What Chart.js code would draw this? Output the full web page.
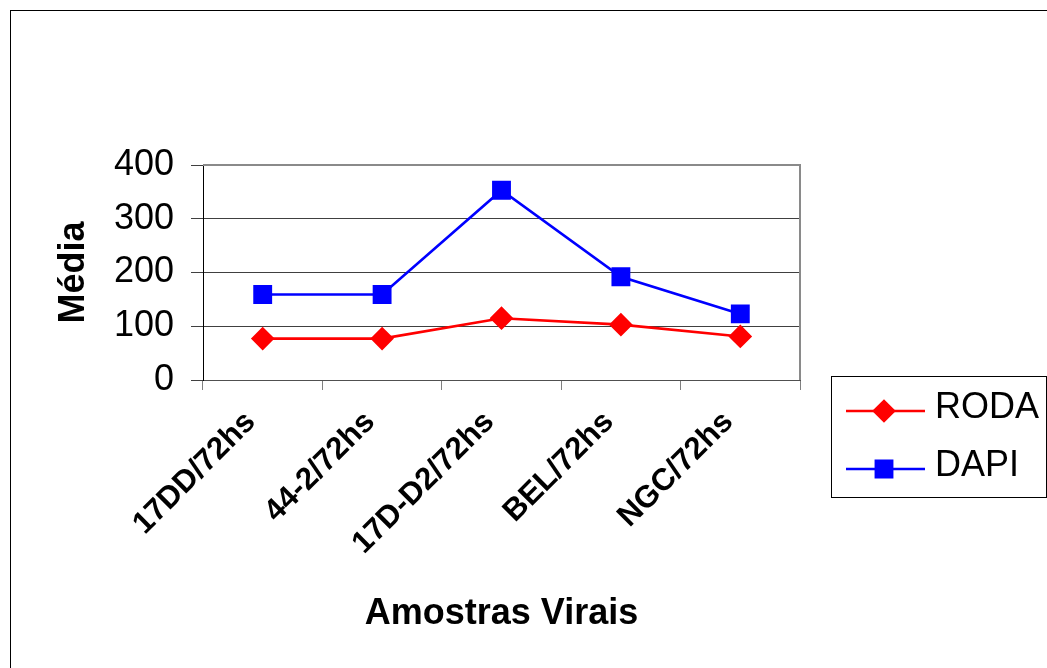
<!DOCTYPE html>
<html>
<head>
<meta charset="utf-8">
<script src="https://cdn.jsdelivr.net/npm/chart.js@4.4.1/dist/chart.umd.min.js"></script>
<style>
  html, body { margin: 0; padding: 0; background: #fff; }
  #wrap { width: 1047px; height: 668px; }
</style>
</head>
<body>
<div id="wrap"><canvas id="c" width="1047" height="668"></canvas></div>
<script>
// Virus samples on the x axis
const categories = ['17DD/72hs', '44-2/72hs', '17D-D2/72hs', 'BEL/72hs', 'NGC/72hs'];
// Mean values per staining method
const rodaValues = [77, 77, 115, 103, 81];
const dapiValues = [159, 159, 353, 192, 123];
const yTicks = [0, 100, 200, 300, 400];

const FONT = "'Liberation Sans', Arial, sans-serif";

// Outer frame and plot-area frame
const framePlugin = {
  id: 'frames',
  beforeDraw(chart) {
    const ctx = chart.ctx;
    ctx.save();
    ctx.fillStyle = '#fff';
    ctx.fillRect(0, 0, chart.width, chart.height);
    ctx.strokeStyle = '#000';
    ctx.lineWidth = 1;
    ctx.strokeRect(10.5, 10.5, chart.width + 20, chart.height + 20);
    ctx.restore();
  },
  beforeDatasetsDraw(chart) {
    const { ctx, chartArea: a } = chart;
    ctx.save();
    ctx.strokeStyle = '#8a8a8a';
    ctx.lineWidth = 2;
    ctx.beginPath();
    ctx.moveTo(a.left, a.top);
    ctx.lineTo(a.right, a.top);
    ctx.lineTo(a.right, a.bottom);
    ctx.stroke();
    ctx.restore();
  }
};

// Boxed legend to the right of the plot
const boxLegend = {
  id: 'boxLegend',
  afterDraw(chart) {
    const ctx = chart.ctx;
    const box = { x: 831.5, y: 376.5, w: 215, h: 121 };
    ctx.save();
    ctx.strokeStyle = '#000';
    ctx.lineWidth = 1;
    ctx.strokeRect(box.x, box.y, box.w, box.h);
    const rows = [411, 469];
    chart.data.datasets.forEach((ds, i) => {
      const y = rows[i];
      ctx.strokeStyle = ds.borderColor;
      ctx.lineWidth = ds.borderWidth;
      ctx.beginPath();
      ctx.moveTo(846, y);
      ctx.lineTo(925, y);
      ctx.stroke();
      Chart.helpers.drawPoint(ctx, {
        pointStyle: ds.pointStyle,
        radius: ds.pointRadius,
        borderWidth: 1,
        rotation: 0
      }, 884, y);
      ctx.fillStyle = ds.pointBackgroundColor;
      ctx.strokeStyle = ds.pointBorderColor;
      ctx.fill();
      ctx.fillStyle = '#000';
      ctx.font = '36px ' + FONT;
      ctx.textAlign = 'left';
      ctx.textBaseline = 'middle';
      ctx.fillText(ds.label, 935, y - 3);
    });
    ctx.restore();
  }
};

new Chart(document.getElementById('c'), {
  type: 'line',
  data: {
    labels: categories,
    datasets: [
      {
        label: 'RODA',
        data: rodaValues,
        borderColor: '#ff0000',
        backgroundColor: '#ff0000',
        pointBackgroundColor: '#ff0000',
        pointBorderColor: '#ff0000',
        pointStyle: 'rectRot',
        pointRadius: 10,
        borderWidth: 2.6,
        tension: 0
      },
      {
        label: 'DAPI',
        data: dapiValues,
        borderColor: '#0000ff',
        backgroundColor: '#0000ff',
        pointBackgroundColor: '#0000ff',
        pointBorderColor: '#0000ff',
        pointStyle: 'rect',
        pointRadius: 11.5,
        borderWidth: 2.6,
        tension: 0
      }
    ]
  },
  options: {
    responsive: false,
    animation: false,
    layout: {
      autoPadding: false,
      padding: { left: 52, top: 165, right: 247, bottom: 28 }
    },
    plugins: {
      legend: { display: false },
      tooltip: { enabled: false }
    },
    scales: {
      x: {
        type: 'category',
        offset: true,
        grid: {
          offset: true,
          drawOnChartArea: false,
          drawTicks: true,
          tickLength: 10,
          color: '#808080'
        },
        border: { color: '#505050', width: 1 },
        ticks: {
          color: '#000',
          font: { family: FONT, size: 31, weight: 'bold' },
          minRotation: 45,
          maxRotation: 45,
          autoSkip: false,
          labelOffset: -12,
          padding: 14
        },
        title: {
          display: true,
          text: 'Amostras Virais',
          color: '#000',
          font: { family: FONT, size: 36, weight: 'bold' },
          padding: { top: 0, bottom: 4 }
        },
        afterFit(scale) { scale.height = 260; }
      },
      y: {
        min: 0,
        max: 400,
        afterBuildTicks(scale) { scale.ticks = yTicks.map(v => ({ value: v })); },
        grid: {
          color: '#404040',
          lineWidth: 1,
          tickLength: 12
        },
        border: { color: '#000', width: 1 },
        ticks: {
          color: '#000',
          font: { family: FONT, size: 36 },
          padding: 17
        },
        title: {
          display: true,
          text: 'Média',
          color: '#000',
          font: { family: FONT, size: 36, weight: 'bold' },
          padding: { top: 0, bottom: 0 }
        },
        afterFit(scale) { scale.width = 151; }
      }
    }
  },
  plugins: [framePlugin, boxLegend]
});
</script>
</body>
</html>
